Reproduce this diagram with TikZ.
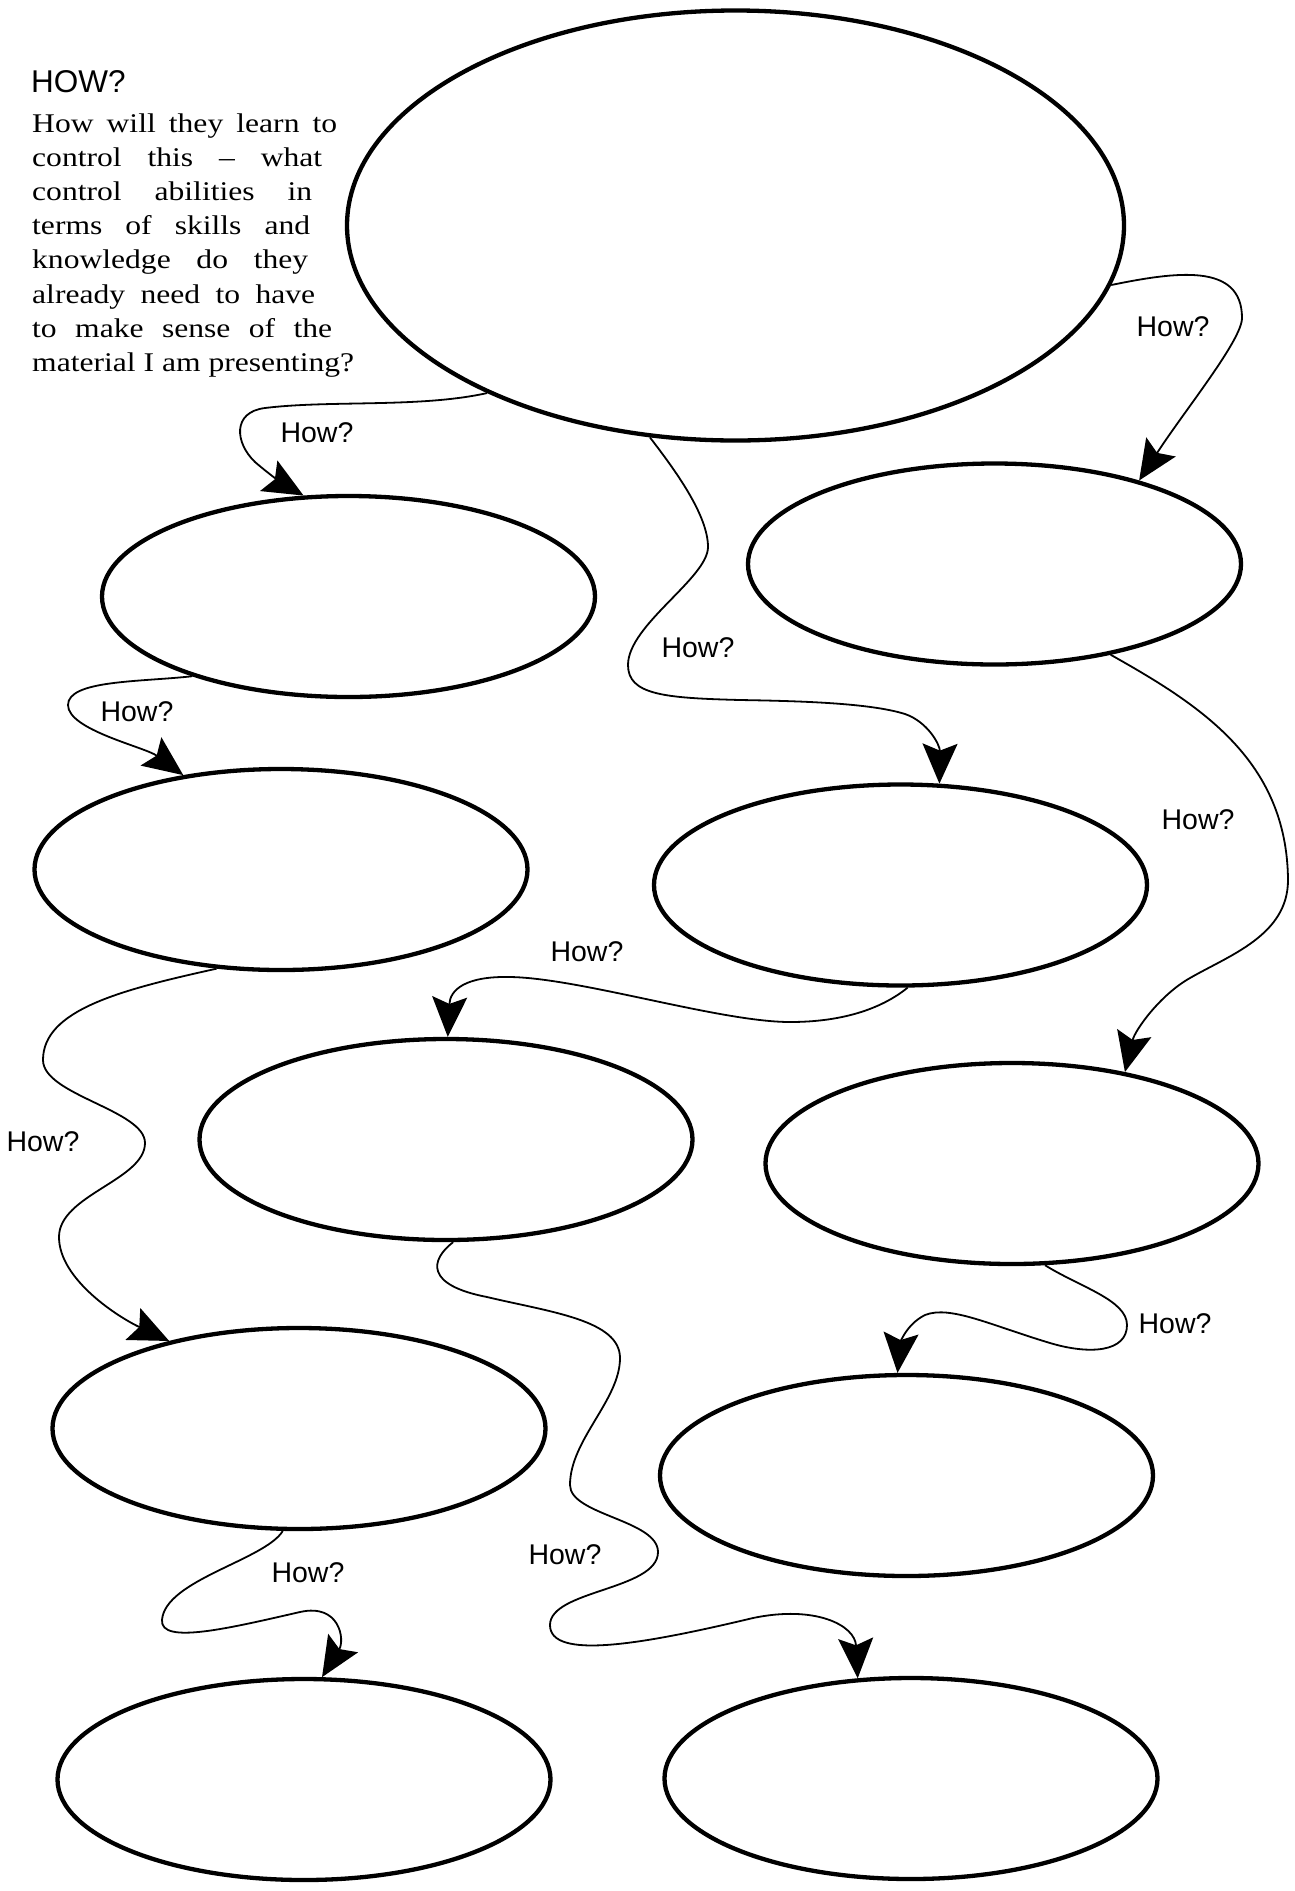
\documentclass[tikz,border=0pt]{standalone}
\usepackage{fontspec}
\usetikzlibrary{shapes.geometric,arrows.meta}
\newfontfamily\bodyfont[FakeStretch=1.17]{Liberation Serif}
\newfontfamily\labelfont{Liberation Sans}
\begin{document}
\begin{tikzpicture}[x=1pt,y=-1pt,
  oval/.style={ellipse, draw, line width=4.3pt, inner sep=0pt, minimum width=493pt, minimum height=201pt},
  conn/.style={line width=1.8pt, -{Stealth[length=40pt,width=35pt,inset=7pt]}},
  lbl/.style={font=\fontsize{28.5}{30}\labelfont, inner sep=0pt},
  hd/.style={font=\fontsize{31.5}{33}\labelfont, anchor=base west, inner sep=0pt},
  txt/.style={font=\fontsize{27}{34}\bodyfont, anchor=base west, inner sep=0pt}]
\useasboundingbox (0,0) rectangle (1295,1891);

% ellipses
\node[oval, minimum width=777pt, minimum height=430pt] (E1) at (735.5,225.5) {};
\node[oval] (E2) at (348.5,596.5) {};
\node[oval] (E3) at (994.5,564) {};
\node[oval] (E4) at (281,869.5) {};
\node[oval] (E5) at (900.5,885) {};
\node[oval] (E6) at (446,1139.5) {};
\node[oval] (E7) at (1012,1163.5) {};
\node[oval] (E8) at (299,1428.5) {};
\node[oval] (E9) at (906.5,1475.5) {};
\node[oval] (E10) at (304,1779.5) {};
\node[oval] (E11) at (911,1778.5) {};

% heading and text
\node[hd] (head) at (31,92) {HOW?};
\node[txt] (t1) at (32,132) {\makebox[305pt][s]{How will they learn to}};
\node[txt] (t2) at (32,166.2) {\makebox[290pt][s]{control this – what}};
\node[txt] (t3) at (32,200.4) {\makebox[280pt][s]{control abilities in}};
\node[txt] (t4) at (32,234.6) {\makebox[278pt][s]{terms of skills and}};
\node[txt] (t5) at (32,268.8) {\makebox[276pt][s]{knowledge do they}};
\node[txt] (t6) at (32,303) {\makebox[283pt][s]{already need to have}};
\node[txt] (t7) at (32,337.2) {\makebox[300pt][s]{to make sense of the}};
\node[txt] (t8) at (32,371.4) {material I am presenting?};

% connectors
\draw[conn] (E1.351) .. controls (1175,272) and (1242,262) .. (1242,318)
  .. controls (1242,340) and (1185,410) .. (E3.30);
\draw[conn] (E1.214) .. controls (420,408) and (330,400) .. (265,408)
  .. controls (232,412) and (235,443) .. (255,462)
  .. controls (270,475) and (285,485) .. (E2.114);
\draw[conn] (E1.248) .. controls (675,470) and (708,515) .. (708,547)
  .. controls (708,578) and (628,625) .. (628,665)
  .. controls (628,695) and (665,698) .. (740,700)
  .. controls (800,701) and (870,703) .. (905,714)
  .. controls (928,722) and (940,745) .. (E5.69);
\draw[conn] (E2.207) .. controls (140,682) and (68,680) .. (68,705)
  .. controls (68,730) and (145,747) .. (E4.136);
\draw[conn] (E5.274) .. controls (880,1010) and (840,1022) .. (790,1022)
  .. controls (720,1022) and (580,978) .. (510,977)
  .. controls (465,976) and (450,990) .. (E6.89);
\draw[conn] (E3.322) .. controls (1200,705) and (1287,760) .. (1288,880)
  .. controls (1288,935) and (1230,955) .. (1190,978)
  .. controls (1160,995) and (1135,1030) .. (E7.39);
\draw[conn] (E4.237) .. controls (120,990) and (43,1010) .. (43,1060)
  .. controls (43,1095) and (145,1110) .. (145,1143)
  .. controls (145,1180) and (59,1195) .. (59,1237)
  .. controls (59,1280) and (120,1318) .. (E8.146);
\draw[conn] (E7.288) .. controls (1080,1287) and (1127,1300) .. (1127,1325)
  .. controls (1127,1352) and (1090,1355) .. (1050,1343)
  .. controls (990,1325) and (950,1305) .. (925,1315)
  .. controls (905,1325) and (900,1345) .. (E9.95);
\draw[conn] (E6.274) .. controls (430,1260) and (425,1285) .. (487,1297)
  .. controls (550,1312) and (620,1320) .. (620,1358)
  .. controls (620,1400) and (570,1440) .. (570,1485)
  .. controls (570,1515) and (658,1520) .. (658,1552)
  .. controls (658,1590) and (550,1590) .. (550,1625)
  .. controls (550,1660) and (640,1645) .. (753,1618)
  .. controls (815,1605) and (855,1625) .. (E11.118);
\draw[conn] (E8.261) .. controls (265,1560) and (165,1580) .. (162,1620)
  .. controls (160,1645) and (230,1628) .. (300,1612)
  .. controls (340,1603) and (345,1640) .. (E10.80);

% labels
\node[lbl] (L1) at (1173,327) {How?};
\node[lbl] (L2) at (317,433) {How?};
\node[lbl] (L3) at (698,648) {How?};
\node[lbl] (L4) at (137,712) {How?};
\node[lbl] (L5) at (587,952) {How?};
\node[lbl] (L6) at (1198,820) {How?};
\node[lbl] (L7) at (43,1142) {How?};
\node[lbl] (L8) at (1175,1324) {How?};
\node[lbl] (L9) at (565,1555) {How?};
\node[lbl] (L10) at (308,1573) {How?};
\end{tikzpicture}
\end{document}
